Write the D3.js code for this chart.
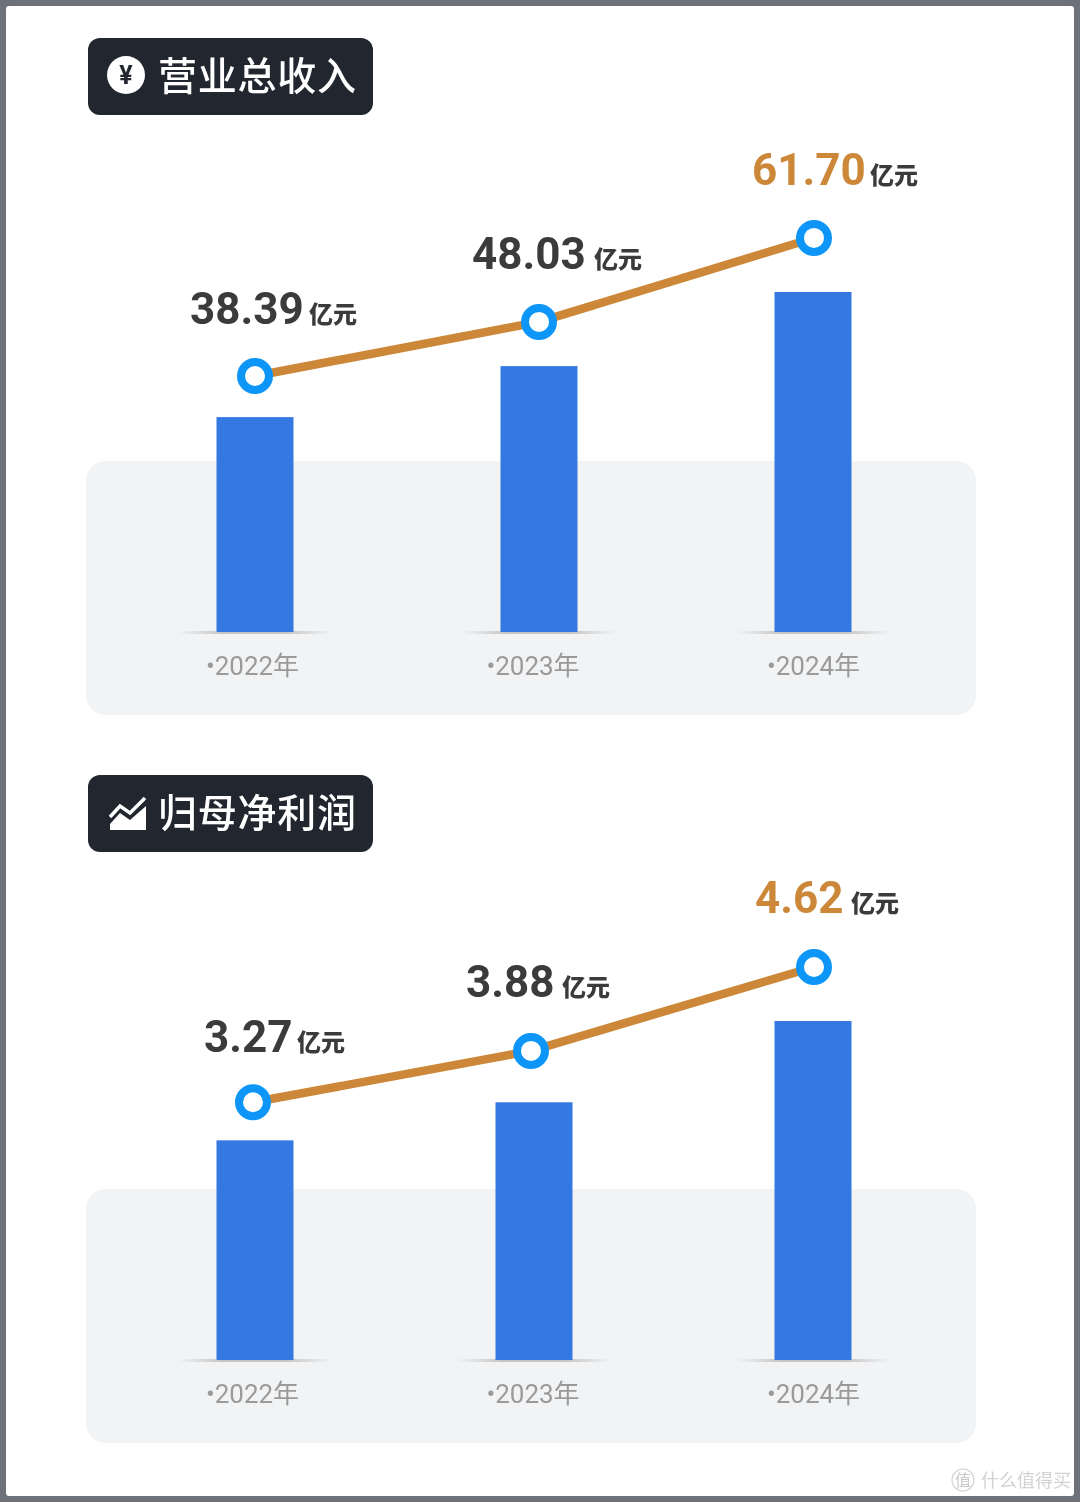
<!DOCTYPE html>
<html>
<head>
<meta charset="utf-8">
<script src="https://cdn.jsdelivr.net/npm/d3@7"></script>
<style>
    html, body { margin: 0; padding: 0; background: #fff; }
    svg { display: block; }
    text { font-family: Roboto, "Noto Sans CJK SC", sans-serif; }
</style>
</head>
<body>
<div id="chart"></div>
<script>
// Data
const categories = ['2022年', '2023年', '2024年'];
const revenueLabels = ['38.39', '48.03', '61.70'];
const profitLabels = ['3.27', '3.88', '4.62'];

// Drawn heights do not follow the printed numbers exactly, so these are
// read as levels, where the tallest bar is about 100
const revenueBars = [63.2, 78.2, 100];
const revenueLine = [75.3, 91.2, 115.9];
const profitBars = [64.6, 75.8, 99.7];
const profitLine = [75.8, 90.9, 115.6];

const labelColors = ['#3b3b3d', '#3b3b3d', '#cc8838'];
const unit = '亿元';

const width = 1080;
const height = 1502;

const svg = d3.select('#chart')
    .append('svg')
    .attr('width', width)
    .attr('height', height);

const defs = svg.append('defs');
const soft = defs.append('filter').attr('id', 'soft');
soft.append('feGaussianBlur').attr('stdDeviation', 0.7);

const shadow = defs.append('linearGradient').attr('id', 'barShadow');
shadow.append('stop').attr('offset', '0%').attr('stop-color', '#c9c9c9').attr('stop-opacity', 0);
shadow.append('stop').attr('offset', '30%').attr('stop-color', '#c4c4c4').attr('stop-opacity', 1);
shadow.append('stop').attr('offset', '70%').attr('stop-color', '#c4c4c4').attr('stop-opacity', 1);
shadow.append('stop').attr('offset', '100%').attr('stop-color', '#c9c9c9').attr('stop-opacity', 0);

// Page frame
svg.append('rect').attr('width', width).attr('height', height).attr('fill', '#6c717a');
svg.append('rect')
    .attr('x', 6).attr('y', 6)
    .attr('width', 1068).attr('height', 1490)
    .attr('rx', 3)
    .attr('fill', '#fff');

const root = svg.append('g').attr('filter', 'url(#soft)');

const panels = [
    {
        title: '营业总收入', icon: 'yen', top: 0,
        labels: revenueLabels, bars: revenueBars, line: revenueLine,
        barShift: [0, 5, 0],
        markerShift: [0, 5, 1],
        labelX: [190, 472, 752],
        unitX: [309, 594, 870],
        labelY: [324, 269, 185]
    },
    {
        title: '归母净利润', icon: 'trend', top: 728,
        labels: profitLabels, bars: profitBars, line: profitLine,
        barShift: [0, 0, 0],
        markerShift: [-2, -3, 1],
        labelX: [204, 466, 755],
        unitX: [297, 562, 851],
        labelY: [1052 - 728, 997 - 728, 913 - 728]
    }
];

const x = d3.scalePoint().domain(categories).range([255, 813]);
const xTicks = d3.scalePoint().domain(categories).range([252, 813]);
const y = d3.scaleLinear().domain([0, 100]).range([632, 292]);
const barWidth = 77;

panels.forEach((p) => {
    const g = root.append('g').attr('transform', `translate(0,${p.top})`);

    // Grey band behind the lower part of the bars
    g.append('rect')
        .attr('x', 86).attr('y', 461)
        .attr('width', 890).attr('height', 254)
        .attr('rx', 20)
        .attr('fill', '#f2f3f5');

    // Title tag
    const tagY = p.top === 0 ? 38 : 47;
    g.append('rect')
        .attr('x', 88).attr('y', tagY)
        .attr('width', 285).attr('height', 77)
        .attr('rx', 12)
        .attr('fill', '#20262f');
    g.append('text')
        .attr('x', 158).attr('y', tagY + 52)
        .attr('font-size', 39)
        .attr('font-weight', 500)
        .attr('textLength', 198)
        .attr('fill', '#fff')
        .text(p.title);

    if(p.icon === 'yen'){
        g.append('circle').attr('cx', 126).attr('cy', tagY + 37).attr('r', 19).attr('fill', '#fff');
        g.append('text')
            .attr('x', 126).attr('y', tagY + 46)
            .attr('text-anchor', 'middle')
            .attr('font-size', 25)
            .attr('font-weight', 700)
            .attr('fill', '#20262f')
            .text('¥');
    } else {
        const icon = g.append('g').attr('transform', `translate(110,${tagY + 22})`);
        icon.append('path')
            .attr('d', 'M0 20 L10 9 L20 16 L35 1')
            .attr('fill', 'none')
            .attr('stroke', '#fff')
            .attr('stroke-width', 3.5);
        icon.append('path')
            .attr('d', 'M0 27 L10 16 L20 23 L36 9 L36 33 L0 33 Z')
            .attr('fill', '#fff');
    }

    // Shadows under the bars
    g.selectAll('.bar-shadow')
        .data(categories)
        .enter()
        .append('rect')
        .attr('class', 'bar-shadow')
        .attr('x', (d, i) => x(d) + p.barShift[i] - 78)
        .attr('y', 631)
        .attr('width', 156)
        .attr('height', 3)
        .attr('fill', 'url(#barShadow)');

    // Bars
    g.selectAll('.bar')
        .data(p.bars)
        .enter()
        .append('rect')
        .attr('class', 'bar')
        .attr('x', (d, i) => x(categories[i]) + p.barShift[i] - barWidth / 2)
        .attr('y', (d) => y(d))
        .attr('width', barWidth)
        .attr('height', (d) => y(0) - y(d))
        .attr('fill', '#3478e2');

    // Line with ring markers
    const markerX = (d, i) => x(categories[i]) + p.markerShift[i];
    const line = d3.line().x(markerX).y((d) => y(d));
    g.append('path')
        .attr('d', line(p.line))
        .attr('fill', 'none')
        .attr('stroke', '#cc8838')
        .attr('stroke-width', 8.5);
    g.selectAll('.marker')
        .data(p.line)
        .enter()
        .append('circle')
        .attr('class', 'marker')
        .attr('cx', markerX)
        .attr('cy', (d) => y(d))
        .attr('r', 14)
        .attr('fill', '#fff')
        .attr('stroke', '#0a96f8')
        .attr('stroke-width', 8);

    // Value labels
    g.selectAll('.value')
        .data(p.labels)
        .enter()
        .append('text')
        .attr('class', 'value')
        .attr('x', (d, i) => p.labelX[i])
        .attr('y', (d, i) => p.labelY[i])
        .attr('font-size', 44)
        .attr('font-weight', 700)
        .attr('fill', (d, i) => labelColors[i])
        .text((d) => d);
    g.selectAll('.unit')
        .data(p.labels)
        .enter()
        .append('text')
        .attr('class', 'unit')
        .attr('x', (d, i) => p.unitX[i])
        .attr('y', (d, i) => p.labelY[i] - 1)
        .attr('font-size', 24)
        .attr('font-weight', 900)
        .attr('fill', '#3b3b3d')
        .text(unit);

    // Year axis
    const axis = g.append('g')
        .attr('transform', 'translate(0,650)')
        .call(d3.axisBottom(xTicks).tickSize(0).tickFormat((d) => '•' + d));
    axis.select('.domain').remove();
    axis.selectAll('text')
        .attr('y', 0)
        .attr('dy', '0.95em')
        .attr('font-size', 26)
        .attr('fill', '#9a9a9a')
        .style('font-family', 'Roboto, "Noto Sans CJK SC", sans-serif');
});

// Watermark
root.append('circle')
    .attr('cx', 963).attr('cy', 1480).attr('r', 11)
    .attr('fill', 'none').attr('stroke', '#d4d4d4').attr('stroke-width', 1.2);
root.append('text')
    .attr('x', 963).attr('y', 1486)
    .attr('text-anchor', 'middle')
    .attr('font-size', 16)
    .attr('fill', '#c8c8c8')
    .text('值');
root.append('text')
    .attr('x', 981).attr('y', 1487)
    .attr('font-size', 18)
    .attr('fill', '#d2d2d2')
    .text('什么值得买');
</script>
</body>
</html>
